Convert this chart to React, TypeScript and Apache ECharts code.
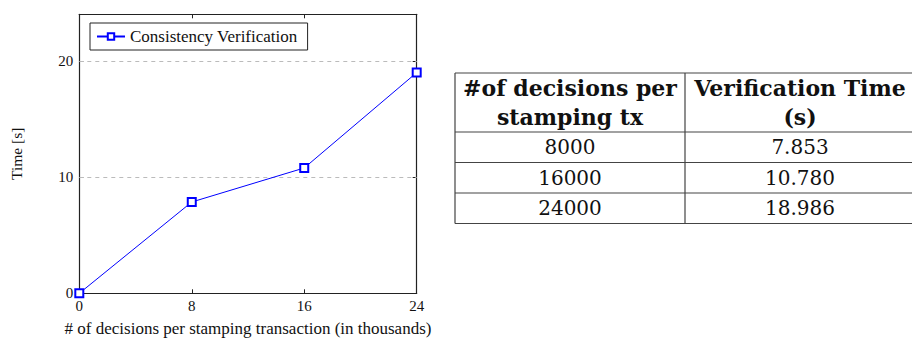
import React, { useEffect, useRef } from "react";
import * as echarts from "echarts";

// ---- data ----
const xValues = [0, 8, 16, 24]; // decisions per stamping transaction (thousands)
const timeValues = [0, 7.853, 10.78, 18.986]; // seconds
const seriesName = "Consistency Verification";
const xTicks = [0, 8, 16, 24];
const yTicks = [0, 10, 20];
const yMax = 24;
const xAxisTitle = "# of decisions per stamping transaction (in thousands)";
const yAxisTitle = "Time [s]";

const tableHeaderCol1 = ["#of decisions per", "stamping tx"];
const tableHeaderCol2 = ["Verification Time", "(s)"];
const tableDecisions = ["8000", "16000", "24000"];
const tableTimes = ["7.853", "10.780", "18.986"];

const SERIF = "Liberation Serif, serif";
const TABLE_FONT = "DejaVu Serif, serif";
const AXIS_COLOR = "#222";

function buildTable(): any[] {
  const left = 455;
  const mid = 685;
  const right = 915;
  const top = 73;
  const headerBottom = 132;
  const rowH = 30.5;
  const rowsY = [headerBottom, headerBottom + rowH, headerBottom + 2 * rowH, headerBottom + 3 * rowH];
  const bottom = rowsY[3];
  const stroke = { stroke: "#444", lineWidth: 1.2 };
  const els: any[] = [];
  [top, ...rowsY].forEach((y) => {
    els.push({ type: "line", shape: { x1: left, y1: y, x2: right, y2: y }, style: stroke, silent: true });
  });
  [left, mid, right].forEach((x) => {
    els.push({ type: "line", shape: { x1: x, y1: top, x2: x, y2: bottom }, style: stroke, silent: true });
  });
  const c1 = (left + mid) / 2;
  const c2 = (mid + right) / 2;
  const headerLineY = [88, 117];
  const headStyle = { fontFamily: TABLE_FONT, fontWeight: "bold", fontSize: 22, fill: "#111", align: "center", verticalAlign: "middle" };
  const bodyStyle = { fontFamily: TABLE_FONT, fontSize: 20, fill: "#111", align: "center", verticalAlign: "middle" };
  tableHeaderCol1.forEach((t, i) => {
    els.push({ type: "text", x: c1, y: headerLineY[i], silent: true, style: { ...headStyle, text: t } });
  });
  tableHeaderCol2.forEach((t, i) => {
    els.push({ type: "text", x: c2, y: headerLineY[i], silent: true, style: { ...headStyle, text: t } });
  });
  tableDecisions.forEach((t, i) => {
    const cy = (rowsY[i] + rowsY[i + 1]) / 2;
    els.push({ type: "text", x: c1, y: cy, silent: true, style: { ...bodyStyle, text: t } });
    els.push({ type: "text", x: c2, y: cy, silent: true, style: { ...bodyStyle, text: tableTimes[i] } });
  });
  return els;
}

export default function App() {
  const ref = useRef<HTMLDivElement>(null);
  useEffect(() => {
    document.body.style.margin = "0";
    const chart = echarts.init(ref.current!, null, { renderer: "svg" });
    const tickStyle = { show: true, inside: true, length: 4, lineStyle: { color: AXIS_COLOR, width: 1 } };
    const lineStyle = { show: true, onZero: false, lineStyle: { color: AXIS_COLOR, width: 1.2 } };
    chart.setOption({
      animation: false,
      backgroundColor: "#fff",
      grid: {
        left: 79.3, right: 495.3, top: 14.3, bottom: 45.7,
        containLabel: false, outerBoundsMode: "none",
      },
      legend: {
        show: true,
        left: 90,
        top: 23,
        orient: "horizontal",
        padding: [4, 10, 4, 6],
        itemWidth: 28,
        itemHeight: 8,
        itemGap: 5,
        borderColor: AXIS_COLOR,
        borderWidth: 1,
        backgroundColor: "#fff",
        textStyle: { fontFamily: SERIF, fontSize: 17, color: "#111", lineHeight: 19 },
        data: [seriesName],
      },
      xAxis: [
        {
          type: "value",
          position: "bottom",
          min: xTicks[0],
          max: xTicks[xTicks.length - 1],
          interval: xTicks[1] - xTicks[0],
          axisLine: lineStyle,
          axisTick: tickStyle,
          splitLine: { show: false },
          axisLabel: { fontFamily: SERIF, fontSize: 15, color: "#111", margin: 5 },
          name: xAxisTitle,
          nameLocation: "middle",
          nameGap: 26,
          nameTextStyle: { fontFamily: SERIF, fontSize: 17, color: "#111", lineHeight: 19 },
        },
        {
          type: "value",
          position: "top",
          min: xTicks[0],
          max: xTicks[xTicks.length - 1],
          interval: xTicks[1] - xTicks[0],
          axisLine: lineStyle,
          axisTick: tickStyle,
          splitLine: { show: false },
          axisLabel: { show: false },
        },
      ],
      yAxis: [
        {
          type: "value",
          position: "left",
          min: 0,
          max: yMax,
          interval: yTicks[1] - yTicks[0],
          axisLine: lineStyle,
          axisTick: tickStyle,
          splitLine: { show: false },
          axisLabel: {
            fontFamily: SERIF, fontSize: 15, color: "#111", margin: 6,
            formatter: (v: number) => (yTicks.includes(v) ? String(v) : ""),
          },
          name: yAxisTitle,
          nameLocation: "middle",
          nameGap: 55,
          nameTextStyle: { fontFamily: SERIF, fontSize: 15.5, color: "#111" },
        },
        {
          type: "value",
          position: "right",
          min: 0,
          max: yMax,
          interval: yTicks[1] - yTicks[0],
          axisLine: lineStyle,
          axisTick: tickStyle,
          splitLine: { show: false },
          axisLabel: { show: false },
        },
      ],
      series: [
        {
          name: seriesName,
          type: "line",
          xAxisIndex: 0,
          yAxisIndex: 0,
          data: xValues.map((x, i) => [x, timeValues[i]]),
          symbol: "emptyRect",
          symbolSize: 8,
          lineStyle: { color: "#0000ff", width: 1 },
          itemStyle: { color: "#0000ff", borderColor: "#0000ff", borderWidth: 1 },
          clip: false,
          z: 5,
          markLine: {
            silent: true,
            symbol: "none",
            label: { show: false },
            lineStyle: { color: "#bbb", type: [4, 4], width: 1 },
            data: yTicks.filter((v) => v > 0).map((v) => ({ yAxis: v })),
          },
        },
      ],
      graphic: buildTable(),
    });
    return () => chart.dispose();
  }, []);
  return (
    <div
      ref={ref}
      style={{ width: 912, height: 339, position: "fixed", left: 0, top: 0, background: "#fff" }}
    />
  );
}
